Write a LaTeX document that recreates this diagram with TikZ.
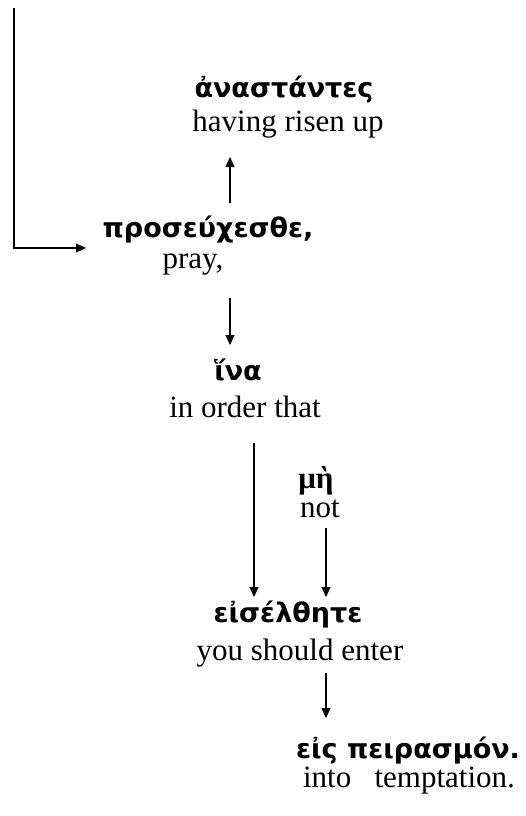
\documentclass[tikz,border=0pt]{standalone}
\usepackage{fontspec}
\setmainfont{Liberation Serif}
\newfontfamily\greekfont{DejaVu Sans}
\usetikzlibrary{arrows.meta}
\tikzset{
  gr/.style={anchor=base, inner sep=0pt, font=\greekfont\bfseries\fontsize{27}{32}\selectfont},
  en/.style={anchor=base, inner sep=0pt, font=\fontsize{31}{36}\selectfont},
  link/.style={line width=1.2pt, -{Triangle[length=10pt,width=9pt]}}
}
\begin{document}
\begin{tikzpicture}[x=1pt,y=-1pt]
  \useasboundingbox (0,0) rectangle (525,816);

  % words and glosses
  \node[gr] (anastantes) at (284,97) {ἀναστάντες};
  \node[en] (risen) at (288,131) {having risen up};
  \node[gr] (proseuchesthe) at (208,237) {προσεύχεσθε,};
  \node[en] (pray) at (193,268) {pray,};
  \node[gr] (hina) at (238,380) {ἵνα};
  \node[en] (inorder) at (245,417) {in order that};
  \node[en] (me) at (316,488) {{\bfseries μὴ}};
  \node[en] (not) at (320,517) {not};
  \node[gr] (eiselthete) at (288,622) {εἰσέλθητε};
  \node[en] (enter) at (300,660) {you should enter};
  \node[gr] (peirasmon) at (408,758) {εἰς πειρασμόν.};
  \node[en] (temptation) at (409,787) {into\ \ \ temptation.};

  % connector end points
  \coordinate (topstart) at (14,8);
  \coordinate (corner) at (14,248);
  \coordinate (prayin) at (86,248);
  \coordinate (upfrom) at (230,203);
  \coordinate (upto) at (230,157);
  \coordinate (hinafrom) at (230,298);
  \coordinate (hinato) at (230,345);
  \coordinate (longfrom) at (254,443);
  \coordinate (longto) at (254,597);
  \coordinate (notfrom) at (326,528);
  \coordinate (notto) at (326,597);
  \coordinate (intofrom) at (326,673);
  \coordinate (intoto) at (326,718);

  % connectors
  \draw[link] (topstart) -- (corner) -- (prayin);
  \draw[link] (upfrom) -- (upto);
  \draw[link] (hinafrom) -- (hinato);
  \draw[link] (longfrom) -- (longto);
  \draw[link] (notfrom) -- (notto);
  \draw[link] (intofrom) -- (intoto);
\end{tikzpicture}
\end{document}
